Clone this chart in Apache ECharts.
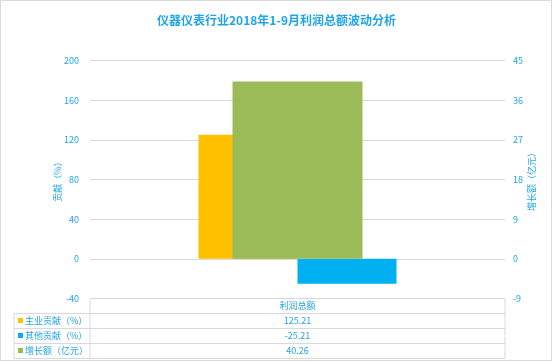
<!DOCTYPE html>
<html>
<head>
<meta charset="utf-8">
<script src="https://cdn.jsdelivr.net/npm/echarts@6/dist/echarts.min.js"></script>
<style>
html,body{margin:0;padding:0;background:#fff;}
#c{width:553px;height:362px;}
</style>
</head>
<body>
<div id="c"></div>
<script>
// ---- data ----
const title = '仪器仪表行业2018年1-9月利润总额波动分析';
const categories = ['利润总额'];
const seriesNames = ['主业贡献（%）', '其他贡献（%）', '增长额（亿元）'];
const mainContribution = [125.21];
const otherContribution = [-25.21];
const growthAmount = [40.26];
const tableValues = ['125.21', '-25.21', '40.26'];
const leftAxisName = '贡献（%）';
const rightAxisName = '增长额（亿元）';
const leftTicks = { min: -40, max: 200, interval: 40 };
const rightTicks = { min: -9, max: 45, interval: 9 };

// ---- style ----
const colors = ['#FFC000', '#00B0F0', '#9BBB59'];
const txt = '#1FA5E6';
const gridColor = '#D9D9D9';
const font = '"Noto Sans CJK SC", "Noto Sans", sans-serif';

const G = { left: 90, right: 505, top: 60.5, bottom: 298.5 };
const legendLeft = 14;
const rowH = 15;

const chart = echarts.init(document.getElementById('c'), null, { renderer: 'canvas' });

// table graphics
const gfx = [];
gfx.push({ type: 'rect', shape: { x: 0.5, y: 0.5, width: 551, height: 360 }, style: { fill: 'none', stroke: '#D9D9D9', lineWidth: 1 }, silent: true });
const lineStyle = { stroke: gridColor, lineWidth: 1 };
const yRows = [];
for (let i = 0; i <= seriesNames.length + 1; i++) yRows.push(G.bottom + i * rowH);
gfx.push({ type: 'line', shape: { x1: G.left, y1: yRows[0], x2: G.right, y2: yRows[0] }, style: lineStyle });
for (let i = 1; i < yRows.length; i++) {
  gfx.push({ type: 'line', shape: { x1: legendLeft, y1: yRows[i], x2: G.right, y2: yRows[i] }, style: lineStyle });
}
gfx.push({ type: 'line', shape: { x1: legendLeft, y1: yRows[1], x2: legendLeft, y2: yRows[yRows.length - 1] }, style: lineStyle });
gfx.push({ type: 'line', shape: { x1: G.left, y1: yRows[0], x2: G.left, y2: yRows[yRows.length - 1] }, style: lineStyle });
gfx.push({ type: 'line', shape: { x1: G.right, y1: yRows[0], x2: G.right, y2: yRows[yRows.length - 1] }, style: lineStyle });
const cx = (G.left + G.right) / 2;
gfx.push({ type: 'text', style: { text: categories[0], x: cx, y: (yRows[0] + yRows[1]) / 2, align: 'center', verticalAlign: 'middle', fill: txt, font: '9px ' + font } });
seriesNames.forEach((n, i) => {
  const yc = (yRows[i + 1] + yRows[i + 2]) / 2;
  gfx.push({ type: 'rect', shape: { x: 18, y: yc - 3, width: 5, height: 5 }, style: { fill: colors[i] } });
  gfx.push({ type: 'text', style: { text: n, x: 25, y: yc, align: 'left', verticalAlign: 'middle', fill: txt, font: '9px ' + font } });
  gfx.push({ type: 'text', style: { text: tableValues[i], x: cx, y: yc, align: 'center', verticalAlign: 'middle', fill: txt, font: '9px ' + font } });
});

const option = {
  animation: false,
  backgroundColor: '#fff',
  title: {
    text: title, left: 'center', top: 9,
    textStyle: { color: txt, fontSize: 12, fontWeight: 'bold', fontFamily: font }
  },
  grid: { left: G.left, right: 553 - G.right, top: G.top, bottom: 362 - G.bottom, containLabel: false },
  xAxis: [
    { type: 'category', data: categories, axisLine: { show: false }, axisTick: { show: false }, axisLabel: { show: false }, splitLine: { show: false } },
    { type: 'category', data: categories, show: false }
  ],
  yAxis: [
    {
      type: 'value', min: leftTicks.min, max: leftTicks.max, interval: leftTicks.interval,
      name: leftAxisName, nameLocation: 'middle', nameRotate: 90, nameGap: 28, nameMoveOverlap: false,
      nameTextStyle: { color: txt, fontSize: 9, fontFamily: font },
      axisLine: { show: false }, axisTick: { show: false },
      axisLabel: { color: txt, fontSize: 9, margin: 11, fontFamily: font },
      splitLine: { show: true, lineStyle: { color: gridColor, width: 1 } }
    },
    {
      type: 'value', min: rightTicks.min, max: rightTicks.max, interval: rightTicks.interval,
      name: rightAxisName, nameLocation: 'middle', nameRotate: 90, nameGap: 22, nameMoveOverlap: false,
      nameTextStyle: { color: txt, fontSize: 9, fontFamily: font },
      axisLine: { show: false }, axisTick: { show: false },
      axisLabel: { color: txt, fontSize: 9, margin: 8, fontFamily: font },
      splitLine: { show: false }
    }
  ],
  series: [
    { name: seriesNames[0], type: 'bar', xAxisIndex: 0, yAxisIndex: 0, data: mainContribution, barWidth: 99, barGap: '0%', itemStyle: { color: colors[0] }, z: 2 },
    { name: seriesNames[1], type: 'bar', xAxisIndex: 0, yAxisIndex: 0, data: otherContribution, barWidth: 99, barGap: '0%', itemStyle: { color: colors[1] }, z: 2 },
    { name: seriesNames[2], type: 'bar', xAxisIndex: 1, yAxisIndex: 1, data: growthAmount, barWidth: 130, itemStyle: { color: colors[2] }, z: 3 }
  ],
  graphic: { elements: gfx }
};
chart.setOption(option);
</script>
</body>
</html>
